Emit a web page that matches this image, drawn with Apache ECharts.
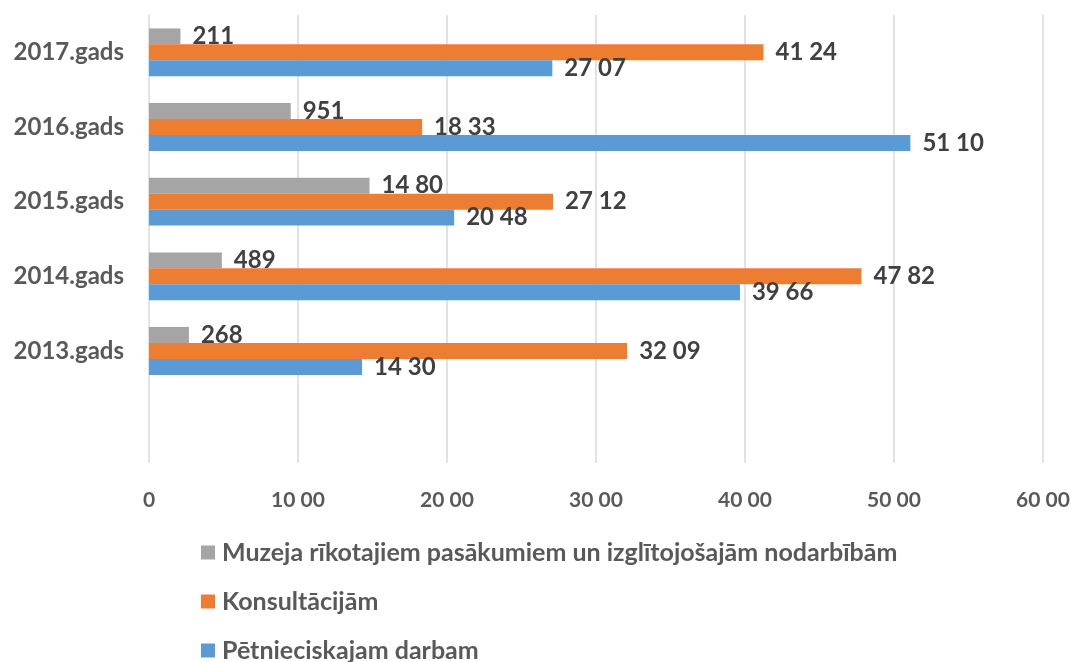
<!DOCTYPE html>
<html>
<head>
<meta charset="utf-8">
<script src="https://cdn.jsdelivr.net/npm/echarts@6/dist/echarts.min.js"></script>
<style>
  html, body { margin: 0; padding: 0; background: #fff; }
  #chart { width: 1075px; height: 662px; }
</style>
</head>
<body>
<div id="chart"></div>
<script>
// bottom slot is an empty row, like in the original sheet
var years = ['', '2013.gads', '2014.gads', '2015.gads', '2016.gads', '2017.gads'];
var research = [null, 1430, 3966, 2048, 5110, 2707];
var consult = [null, 3209, 4782, 2712, 1833, 4124];
var events = [null, 268, 489, 1480, 951, 211];
var seriesNames = [
  'Muzeja rīkotajiem pasākumiem un izglītojošajām nodarbībām',
  'Konsultācijām',
  'Pētnieciskajam darbam'
];

function fmt(v) {
  if (v == null) return '';
  if (v < 1000) return String(v);
  var r = v % 100;
  return Math.floor(v / 100) + ' ' + (r < 10 ? '0' + r : r);
}

var font = 'Lato, "Open Sans", sans-serif';
var myChart = echarts.init(document.getElementById('chart'));

function bar(name, data, color) {
  return {
    name: name,
    type: 'bar',
    data: data,
    barGap: '0%',
    barCategoryGap: '36%',
    itemStyle: { color: color },
    label: {
      show: true,
      position: 'right',
      distance: 12,
      color: '#404040',
      fontFamily: font,
      fontWeight: 'bold',
      fontSize: 24,
      formatter: function (p) { return fmt(p.value); }
    }
  };
}

var option = {
  animation: false,
  textStyle: { fontFamily: font },
  grid: { left: 149, right: 32, top: 15, bottom: 199, containLabel: false },
  xAxis: {
    type: 'value',
    min: 0,
    max: 6000,
    interval: 1000,
    axisLine: { show: false },
    axisTick: { show: false },
    splitLine: { lineStyle: { color: '#d9d9d9', width: 1.5 } },
    axisLabel: {
      margin: 27,
      color: '#595959',
      fontFamily: font,
      fontWeight: 'bold',
      fontSize: 21,
      formatter: fmt
    }
  },
  yAxis: {
    type: 'category',
    data: years,
    axisLine: { show: false },
    axisTick: { show: false },
    axisLabel: {
      margin: 25,
      color: '#595959',
      fontFamily: font,
      fontWeight: 'bold',
      fontSize: 24
    }
  },
  legend: {
    orient: 'vertical',
    left: 201,
    top: 540,
    height: 200,
    padding: 0,
    itemWidth: 14,
    itemHeight: 14,
    itemGap: 24,
    icon: 'rect',
    data: seriesNames,
    textStyle: {
      color: '#595959',
      fontFamily: font,
      fontWeight: 'bold',
      fontSize: 25,
      padding: [0, 0, 0, 2]
    }
  },
  series: [
    bar(seriesNames[0], events, '#a5a5a5'),
    bar(seriesNames[1], consult, '#ed7d31'),
    bar(seriesNames[2], research, '#5b9bd5')
  ]
};
myChart.setOption(option);
</script>
</body>
</html>
